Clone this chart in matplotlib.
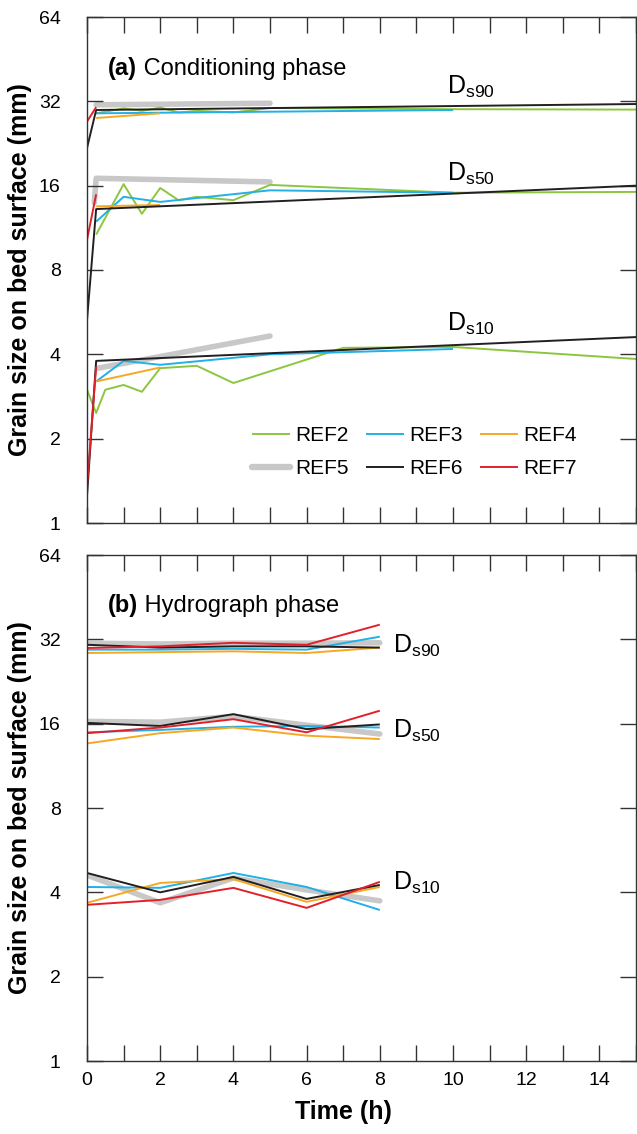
import matplotlib
matplotlib.use("Agg")
import matplotlib.pyplot as plt
from matplotlib.lines import Line2D
from matplotlib.ticker import MultipleLocator, NullLocator, FixedLocator, FixedFormatter

plt.rcParams['font.family'] = ['Liberation Sans', 'DejaVu Sans']
plt.rcParams['mathtext.fontset'] = 'custom'
plt.rcParams['mathtext.rm'] = 'Liberation Sans'

# ---------------- colours / series names ----------------
series_names = ["REF2", "REF3", "REF4", "REF5", "REF6", "REF7"]
series_colors = {"REF2": "#8cc63f", "REF3": "#22b0e6", "REF4": "#f7a823",
                 "REF5": "#c8c8c8", "REF6": "#231f20", "REF7": "#e3202a"}
series_lw = {"REF2": 1.4, "REF3": 1.4, "REF4": 1.4, "REF5": 4.0, "REF6": 1.4, "REF7": 1.4}

# ---------------- (a) conditioning phase ----------------
# REF2
ref2_t90 = [0.25, 1, 1.5, 2, 2.5, 3, 4, 5, 10, 15]
ref2_d90 = [29.0, 30.2, 29.6, 30.4, 29.2, 29.6, 29.2, 30.3, 30.0, 29.9]
ref2_t50 = [0.25, 1, 1.5, 2, 2.5, 3, 4, 5, 10, 15]
ref2_d50 = [10.7, 16.2, 12.7, 15.7, 14.2, 14.6, 14.2, 16.1, 15.1, 15.2]
ref2_t10 = [0, 0.25, 0.5, 1, 1.5, 2, 3, 4, 7, 10, 15]
ref2_d10 = [2.99, 2.47, 2.99, 3.11, 2.94, 3.57, 3.64, 3.16, 4.22, 4.25, 3.85]
# REF3
ref3_t90 = [0.25, 10]
ref3_d90 = [29.0, 29.8]
ref3_t50 = [0.25, 1, 2, 5, 10]
ref3_d50 = [11.9, 14.6, 14.0, 15.4, 15.1]
ref3_t10 = [0.25, 1, 2, 5, 10]
ref3_d10 = [3.2, 3.79, 3.67, 4.0, 4.18]
# REF4
ref4_t = [0.25, 2]
ref4_d90 = [27.9, 29.0]
ref4_d50 = [13.5, 13.65]
ref4_d10 = [3.2, 3.59]
# REF5
ref5_t90 = [0.25, 5]
ref5_d90 = [31.1, 31.5]
ref5_t50 = [0.2, 0.25, 5]
ref5_d50 = [13.9, 17.0, 16.5]
ref5_t10 = [0.3, 5]
ref5_d10 = [3.57, 4.65]
# REF6
ref6_t = [0, 0.25, 15]
ref6_d90 = [21.8, 29.8, 31.3]
ref6_d50 = [5.3, 13.2, 16.0]
ref6_d10 = [1.25, 3.79, 4.61]
# REF7
ref7_t = [0, 0.25]
ref7_d90 = [27.1, 30.5]
ref7_d50 = [10.25, 14.9]
ref7_d10 = [1.35, 3.62]

# ---------------- (b) hydrograph phase ----------------
hyd_t = [0, 2, 4, 6, 8]
hyd_ref3_d90 = [29.4, 29.4, 29.6, 29.4, 32.7]
hyd_ref4_d90 = [28.6, 28.8, 29.0, 28.6, 29.9]
hyd_ref5_d90 = [31.0, 30.8, 31.0, 31.0, 31.1]
hyd_ref6_d90 = [30.6, 29.9, 30.2, 30.2, 29.9]
hyd_ref7_d90 = [29.8, 30.2, 31.1, 30.6, 36.1]

hyd_ref3_d50 = [14.9, 15.2, 15.6, 15.7, 15.5]
hyd_ref4_d50 = [13.6, 14.8, 15.5, 14.5, 14.1]
hyd_ref5_d50 = [16.3, 16.2, 17.0, 15.8, 14.7]
hyd_ref6_d50 = [16.1, 15.7, 17.3, 15.3, 15.9]
hyd_ref7_d50 = [14.8, 15.5, 16.6, 14.9, 17.8]

hyd_ref3_d10 = [4.18, 4.15, 4.69, 4.18, 3.46]
hyd_ref4_d10 = [3.67, 4.32, 4.46, 3.70, 4.18]
hyd_ref5_d10 = [4.61, 3.67, 4.50, 4.08, 3.73]
hyd_ref6_d10 = [4.69, 4.00, 4.54, 3.79, 4.25]
hyd_ref7_d10 = [3.61, 3.76, 4.15, 3.52, 4.36]

y_ticks = [1, 2, 4, 8, 16, 32, 64]
x_major = [0, 2, 4, 6, 8, 10, 12, 14]

fig = plt.figure(figsize=(6.37, 11.34), dpi=100)
W, H = 637.0, 1134.0
axA = fig.add_axes([87 / W, 1 - 523 / H, (636 - 87) / W, 506 / H])
axB = fig.add_axes([87 / W, 1 - 1061 / H, (636 - 87) / W, 506 / H])


def draw(ax, name, t, v):
    ax.plot(t, v, color=series_colors[name], lw=series_lw[name],
            solid_capstyle='round' if name == "REF5" else 'butt',
            zorder=1 if name == "REF5" else 2)


# panel a
for t, v in [(ref5_t90, ref5_d90), (ref5_t50, ref5_d50), (ref5_t10, ref5_d10)]:
    draw(axA, "REF5", t, v)
for t, v in [(ref2_t90, ref2_d90), (ref2_t50, ref2_d50), (ref2_t10, ref2_d10)]:
    draw(axA, "REF2", t, v)
for t, v in [(ref3_t90, ref3_d90), (ref3_t50, ref3_d50), (ref3_t10, ref3_d10)]:
    draw(axA, "REF3", t, v)
for v in (ref4_d90, ref4_d50, ref4_d10):
    draw(axA, "REF4", ref4_t, v)
for v in (ref6_d90, ref6_d50, ref6_d10):
    draw(axA, "REF6", ref6_t, v)
for v in (ref7_d90, ref7_d50, ref7_d10):
    draw(axA, "REF7", ref7_t, v)

# panel b
for name, vals in [("REF5", (hyd_ref5_d90, hyd_ref5_d50, hyd_ref5_d10)),
                   ("REF3", (hyd_ref3_d90, hyd_ref3_d50, hyd_ref3_d10)),
                   ("REF4", (hyd_ref4_d90, hyd_ref4_d50, hyd_ref4_d10)),
                   ("REF6", (hyd_ref6_d90, hyd_ref6_d50, hyd_ref6_d10)),
                   ("REF7", (hyd_ref7_d90, hyd_ref7_d50, hyd_ref7_d10))]:
    for v in vals:
        draw(axB, name, hyd_t, v)

for ax in (axA, axB):
    ax.set_yscale('log', base=2)
    ax.set_ylim(1, 64)
    ax.set_xlim(0, 15)
    ax.yaxis.set_major_locator(FixedLocator(y_ticks))
    ax.yaxis.set_major_formatter(FixedFormatter([str(v) for v in y_ticks]))
    ax.yaxis.set_minor_locator(NullLocator())
    ax.xaxis.set_major_locator(FixedLocator(x_major))
    ax.xaxis.set_minor_locator(MultipleLocator(1))
    ax.tick_params(which='both', direction='in', length=11.5, width=1.0,
                   top=True, right=True, color='#333333', labelsize=14)
    ax.tick_params(axis='y', pad=19)
    ax.tick_params(axis='x', pad=8)
    for s in ax.spines.values():
        s.set_linewidth(1.0)
        s.set_color('#333333')
    ax.set_ylabel('Grain size on bed surface (mm)', fontsize=18, fontweight='bold',
                  labelpad=5)

axA.set_xticklabels([])
axB.set_xticklabels([str(v) for v in x_major])
axB.set_xlabel('Time (h)', fontsize=18, fontweight='bold', labelpad=8, x=0.467)


def panel_title(ax, tag, text, y):
    t1 = ax.text(0.038, y, tag, transform=ax.transAxes, fontsize=17,
                 fontweight='bold', ha='left', va='center')
    ax.annotate(' ' + text, xy=(1, 0), xycoords=t1, ha='left', va='bottom',
                fontsize=17)


panel_title(axA, '(a)', 'Conditioning phase', 0.899)
panel_title(axB, '(b)', 'Hydrograph phase', 0.901)

dlab = [(axA, 0.656, 0.862, 's90'), (axA, 0.656, 0.690, 's50'), (axA, 0.656, 0.393, 's10'),
        (axB, 0.557, 0.820, 's90'), (axB, 0.557, 0.652, 's50'), (axB, 0.557, 0.352, 's10')]
for ax, x, y, sub in dlab:
    ax.text(x, y, r'$\mathregular{D_{%s}}$' % sub, transform=ax.transAxes,
            fontsize=18, ha='left', va='center')

handles = {n: Line2D([], [], color=series_colors[n],
                     lw=series_lw[n] + (0.6 if n == "REF5" else 0),
                     solid_capstyle='round' if n == "REF5" else 'butt')
           for n in series_names}
order = ["REF2", "REF5", "REF3", "REF6", "REF4", "REF7"]
axA.legend([handles[n] for n in order], order, ncol=3, loc='upper left',
           bbox_to_anchor=(0.300, 0.192), frameon=False, fontsize=15,
           handlelength=1.85, handletextpad=0.25, columnspacing=0.8,
           labelspacing=0.68, borderpad=0, borderaxespad=0)

fig.savefig('out.png', dpi=100)
